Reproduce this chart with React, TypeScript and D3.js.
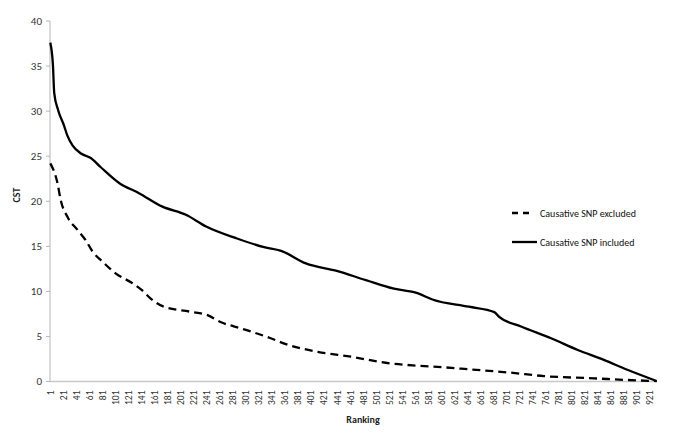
import React from "react";
import * as d3 from "d3";

const includedRanks = [1, 5, 7, 13, 22, 27, 35, 48, 63, 78, 107, 137, 173, 209, 240, 286, 329, 355, 393, 439, 485, 528, 564, 587, 643, 682, 689, 723, 769, 810, 850, 886, 931];
const includedValues = [37.6, 35.1, 32, 30.1, 28.4, 27.3, 26.2, 25.3, 24.8, 23.8, 22.0, 20.9, 19.4, 18.5, 17.2, 15.9, 14.9, 14.5, 13.1, 12.3, 11.25, 10.3, 9.8, 9.1, 8.3, 7.7, 7.2, 6.1, 4.8, 3.5, 2.4, 1.3, 0.05];

const excludedRanks = [1, 12, 17, 27, 43, 55, 66, 81, 101, 127, 142, 155, 175, 216, 242, 262, 293, 319, 339, 360, 411, 462, 523, 564, 605, 643, 707, 758, 835, 886, 931];
const excludedValues = [24.2, 22.0, 20.1, 18.3, 16.8, 15.7, 14.4, 13.3, 12.0, 10.9, 10.1, 9.2, 8.3, 7.74, 7.37, 6.6, 5.9, 5.3, 4.8, 4.2, 3.3, 2.75, 2.0, 1.75, 1.57, 1.35, 0.98, 0.6, 0.35, 0.17, 0.05];

const nRanks = 931;
const xTickLabels = d3.range(1, 922, 20);
const yTicks = [0, 5, 10, 15, 20, 25, 30, 35, 40];

const font = "Calibri, Carlito, 'Liberation Sans', Arial, sans-serif";

export default function App() {
  const width = 685;
  const height = 434;
  const left = 50;
  const right = 657;
  const top = 21;
  const bottom = 381.5;

  const x = d3.scaleLinear().domain([0.5, nRanks + 0.5]).range([left, right]);
  const y = d3.scaleLinear().domain([0, 40]).range([bottom, top]);

  const line = d3
    .line<[number, number]>()
    .x((d) => x(d[0]))
    .y((d) => y(d[1]))
    .curve(d3.curveMonotoneX);

  const included = includedRanks.map((r, i) => [r, includedValues[i]] as [number, number]);
  const excluded = excludedRanks.map((r, i) => [r, excludedValues[i]] as [number, number]);

  return (
    <svg
      width={width}
      height={height}
      style={{ position: "absolute", left: 0, top: 0, background: "#fff" }}
    >
      {/* y axis */}
      <line x1={left} x2={left} y1={top} y2={bottom} stroke="#b5b5b5" strokeWidth={1} />
      {yTicks.map((t) => (
        <g key={t}>
          <line x1={left - 4} x2={left} y1={y(t)} y2={y(t)} stroke="#b5b5b5" />
          <text
            x={left - 8}
            y={y(t)}
            dy="0.35em"
            textAnchor="end"
            fontSize={11}
            fontFamily={font}
            fill="#333"
          >
            {t}
          </text>
        </g>
      ))}
      <text
        transform={`translate(20,195) rotate(-90)`}
        textAnchor="middle"
        fontSize={10}
        fontWeight="bold"
        fontFamily={font}
        fill="#222"
      >
        CST
      </text>

      {/* x axis */}
      <line x1={left} x2={right} y1={bottom} y2={bottom} stroke="#c8c8c8" strokeWidth={1.5} />
      {xTickLabels.map((t) => (
        <text
          key={t}
          transform={`translate(${x(t)},${bottom + 9}) rotate(-90)`}
          textAnchor="end"
          dy="0.35em"
          fontSize={9.5}
          fontFamily={font}
          fill="#333"
        >
          {t}
        </text>
      ))}
      <text
        x={363}
        y={423}
        textAnchor="middle"
        fontSize={10}
        fontWeight="bold"
        fontFamily={font}
        fill="#222"
      >
        Ranking
      </text>

      {/* series */}
      <path d={line(excluded) ?? ""} fill="none" stroke="#000" strokeWidth={2.3} strokeDasharray="8,5" />
      <path d={line(included) ?? ""} fill="none" stroke="#000" strokeWidth={2.3} />

      {/* legend */}
      <line x1={512} x2={532} y1={213} y2={213} stroke="#000" strokeWidth={2.3} strokeDasharray="6,5" />
      <text x={540} y={213} dy="0.35em" fontSize={10} fontFamily={font} fill="#111">
        Causative SNP excluded
      </text>
      <line x1={512} x2={537} y1={242} y2={242} stroke="#000" strokeWidth={2.3} />
      <text x={540} y={242} dy="0.35em" fontSize={10} fontFamily={font} fill="#111">
        Causative SNP included
      </text>
    </svg>
  );
}
